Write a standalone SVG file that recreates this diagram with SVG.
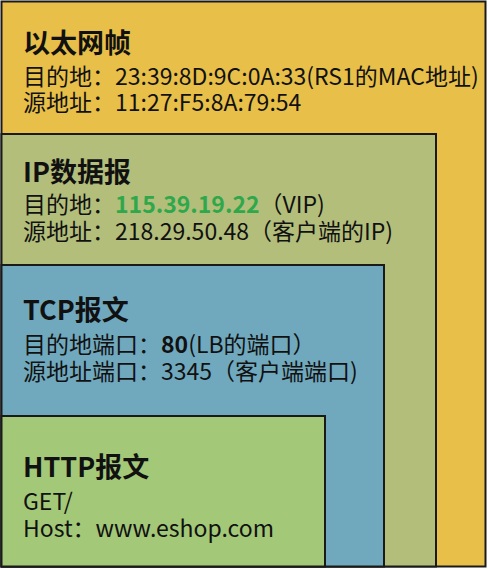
<svg xmlns="http://www.w3.org/2000/svg" width="488" height="569" viewBox="0 0 488 569">
<style>
.box{stroke:#1a1a1a;stroke-width:2}
.t{font-family:"Noto Sans CJK SC","Noto Sans",sans-serif;font-size:27px;font-weight:bold;fill:#111}
.b{font-family:"Noto Sans CJK SC","Noto Sans",sans-serif;font-size:23px;fill:#111}
.g{fill:#2fa84c;font-weight:bold}
.k{font-weight:bold}
</style>
<rect width="488" height="569" fill="#ffffff"/>
<g id="eth">
<rect class="box" x="1.5" y="1.5" width="484" height="565" fill="#e8bf48"/>
<text class="t" x="23" y="53">以太网帧</text>
<text class="b" x="23" y="85">目的地：23:39:8D:9C:0A:33(RS1的MAC地址)</text>
<text class="b" x="23" y="111">源地址：11:27:F5:8A:79:54</text>
</g>
<g id="ip">
<rect class="box" x="1.5" y="134" width="434.5" height="432.5" fill="#b3be7b"/>
<text class="t" x="23" y="182">IP数据报</text>
<text class="b" x="23" y="213">目的地：<tspan class="g">115.39.19.22</tspan>（VIP)</text>
<text class="b" x="23" y="240">源地址：218.29.50.48（客户端的IP)</text>
</g>
<g id="tcp">
<rect class="box" x="1.5" y="265" width="382.5" height="301.5" fill="#70a9be"/>
<text class="t" x="23" y="320">TCP报文</text>
<text class="b" x="23" y="353">目的地端口：<tspan class="k">80</tspan>(LB的端口）</text>
<text class="b" x="23" y="380">源地址端口：3345（客户端端口)</text>
</g>
<g id="http">
<rect class="box" x="1.5" y="416" width="323.5" height="150.5" fill="#a3c878"/>
<text class="t" x="23" y="477">HTTP报文</text>
<text class="b" x="23" y="510">GET/</text>
<text class="b" x="23" y="537">Host：www.eshop.com</text>
</g>
<g id="connectors"/>
</svg>
